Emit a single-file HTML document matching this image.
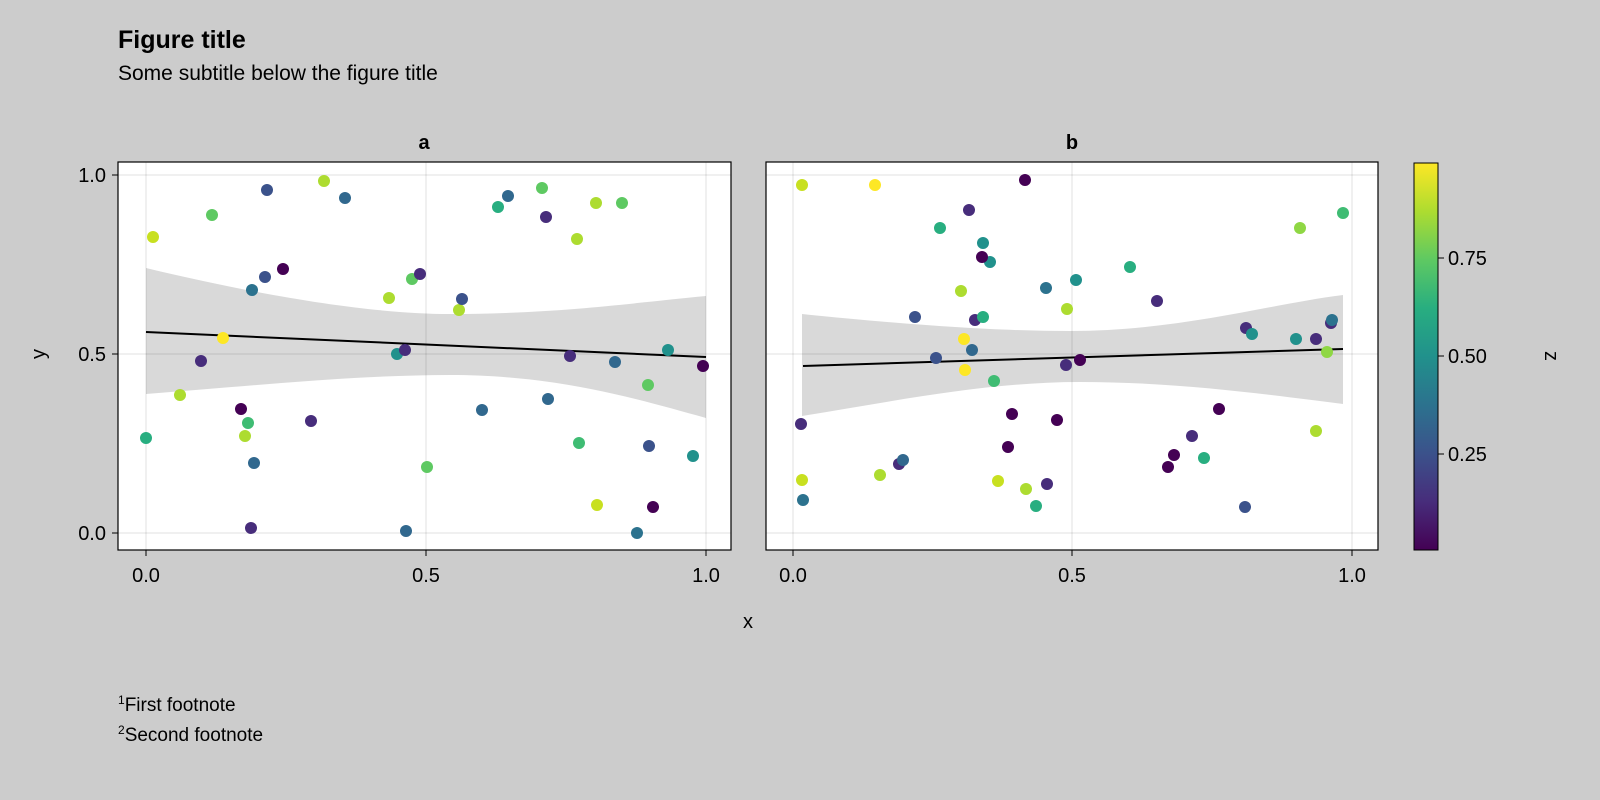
<!DOCTYPE html>
<html><head><meta charset="utf-8"><style>
body{margin:0;background:#cccccc;}
svg{display:block;font-family:"Liberation Sans",Arial,sans-serif;}
</style></head><body>
<svg width="1600" height="800" xmlns="http://www.w3.org/2000/svg">
<defs>
<linearGradient id="vir" x1="0" y1="1" x2="0" y2="0">
<stop offset="0" stop-color="#440154"/><stop offset="0.125" stop-color="#472d7b"/>
<stop offset="0.25" stop-color="#3b528b"/><stop offset="0.375" stop-color="#2c728e"/>
<stop offset="0.5" stop-color="#21918c"/><stop offset="0.625" stop-color="#28ae80"/>
<stop offset="0.75" stop-color="#5ec962"/><stop offset="0.875" stop-color="#addc30"/>
<stop offset="1" stop-color="#fde725"/>
</linearGradient>
</defs>
<rect width="1600" height="800" fill="#cccccc"/>
<text x="118" y="48" font-size="25" font-weight="bold">Figure title</text>
<text x="118" y="80" font-size="21">Some subtitle below the figure title</text>
<text x="424" y="149" font-size="20" font-weight="bold" text-anchor="middle">a</text>
<text x="1072" y="149" font-size="20" font-weight="bold" text-anchor="middle">b</text>

<!-- panel a -->
<rect x="118" y="162" width="613" height="388" fill="#fff"/>
<g stroke="#000" stroke-opacity="0.12" stroke-width="1">
<line x1="146" y1="162" x2="146" y2="550"/><line x1="426" y1="162" x2="426" y2="550"/><line x1="706" y1="162" x2="706" y2="550"/>
<line x1="118" y1="175" x2="731" y2="175"/><line x1="118" y1="354" x2="731" y2="354"/><line x1="118" y1="533" x2="731" y2="533"/>
<line x1="793" y1="162" x2="793" y2="550"/><line x1="1072" y1="162" x2="1072" y2="550"/><line x1="1352" y1="162" x2="1352" y2="550"/>
</g>
<path d="M146,268 C280,300 380,314 450,314 C560,314 640,302 706,296 L706,418 C640,400 560,375 450,375 C360,375 260,385 146,394 Z" fill="#000" fill-opacity="0.15"/>
<line x1="146" y1="332" x2="706" y2="357" stroke="#000" stroke-width="2"/>
<g>
<circle cx="146" cy="438" r="6" fill="#28ae80"/><circle cx="153" cy="237" r="6" fill="#c8e020"/>
<circle cx="180" cy="395" r="6" fill="#addc30"/><circle cx="212" cy="215" r="6" fill="#5ec962"/>
<circle cx="201" cy="361" r="6" fill="#472d7b"/><circle cx="223" cy="338" r="6" fill="#fde725"/>
<circle cx="267" cy="190" r="6" fill="#3b528b"/><circle cx="324" cy="181" r="6" fill="#addc30"/>
<circle cx="345" cy="198" r="6" fill="#31688e"/><circle cx="283" cy="269" r="6" fill="#440154"/>
<circle cx="265" cy="277" r="6" fill="#3b528b"/><circle cx="252" cy="290" r="6" fill="#2c728e"/>
<circle cx="241" cy="409" r="6" fill="#440154"/><circle cx="248" cy="423" r="6" fill="#3fbc73"/>
<circle cx="245" cy="436" r="6" fill="#addc30"/><circle cx="254" cy="463" r="6" fill="#31688e"/>
<circle cx="311" cy="421" r="6" fill="#472d7b"/><circle cx="251" cy="528" r="6" fill="#472d7b"/>
<circle cx="389" cy="298" r="6" fill="#addc30"/><circle cx="412" cy="279" r="6" fill="#5ec962"/>
<circle cx="420" cy="274" r="6" fill="#472d7b"/><circle cx="397" cy="354" r="6" fill="#21918c"/>
<circle cx="405" cy="350" r="6" fill="#472d7b"/><circle cx="459" cy="310" r="6" fill="#addc30"/>
<circle cx="462" cy="299" r="6" fill="#3b528b"/><circle cx="427" cy="467" r="6" fill="#5ec962"/>
<circle cx="406" cy="531" r="6" fill="#31688e"/><circle cx="498" cy="207" r="6" fill="#28ae80"/>
<circle cx="508" cy="196" r="6" fill="#31688e"/><circle cx="542" cy="188" r="6" fill="#5ec962"/>
<circle cx="546" cy="217" r="6" fill="#472d7b"/><circle cx="577" cy="239" r="6" fill="#addc30"/>
<circle cx="596" cy="203" r="6" fill="#addc30"/><circle cx="622" cy="203" r="6" fill="#5ec962"/>
<circle cx="570" cy="356" r="6" fill="#472d7b"/><circle cx="615" cy="362" r="6" fill="#31688e"/>
<circle cx="548" cy="399" r="6" fill="#31688e"/><circle cx="482" cy="410" r="6" fill="#31688e"/>
<circle cx="579" cy="443" r="6" fill="#3fbc73"/><circle cx="649" cy="446" r="6" fill="#3b528b"/>
<circle cx="668" cy="350" r="6" fill="#21918c"/><circle cx="648" cy="385" r="6" fill="#5ec962"/>
<circle cx="693" cy="456" r="6" fill="#21918c"/><circle cx="597" cy="505" r="6" fill="#c8e020"/>
<circle cx="653" cy="507" r="6" fill="#440154"/><circle cx="637" cy="533" r="6" fill="#2c728e"/>
<circle cx="703" cy="366" r="6" fill="#440154"/>
</g>
<rect x="118" y="162" width="613" height="388" fill="none" stroke="#000" stroke-width="1.2"/>

<!-- panel b -->
<rect x="766" y="162" width="612" height="388" fill="#fff"/>
<g stroke="#000" stroke-opacity="0.12" stroke-width="1">
<line x1="793" y1="162" x2="793" y2="550"/><line x1="1072" y1="162" x2="1072" y2="550"/><line x1="1352" y1="162" x2="1352" y2="550"/>
<line x1="766" y1="175" x2="1378" y2="175"/><line x1="766" y1="354" x2="1378" y2="354"/><line x1="766" y1="533" x2="1378" y2="533"/>
</g>
<path d="M802,314 C920,326 1000,331 1070,331 C1180,331 1270,304 1343,295 L1343,404 C1270,395 1180,382 1080,382 C990,382 900,400 802,416 Z" fill="#000" fill-opacity="0.15"/>
<line x1="803" y1="366" x2="1343" y2="349" stroke="#000" stroke-width="2"/>
<g>
<circle cx="802" cy="185" r="6" fill="#c8e020"/><circle cx="875" cy="185" r="6" fill="#fde725"/>
<circle cx="1025" cy="180" r="6" fill="#440154"/><circle cx="940" cy="228" r="6" fill="#28ae80"/>
<circle cx="969" cy="210" r="6" fill="#472d7b"/><circle cx="983" cy="243" r="6" fill="#21918c"/>
<circle cx="990" cy="262" r="6" fill="#21918c"/><circle cx="982" cy="257" r="6" fill="#440154"/>
<circle cx="915" cy="317" r="6" fill="#3b528b"/><circle cx="961" cy="291" r="6" fill="#addc30"/>
<circle cx="975" cy="320" r="6" fill="#472d7b"/><circle cx="983" cy="317" r="6" fill="#28ae80"/>
<circle cx="1046" cy="288" r="6" fill="#2c728e"/><circle cx="1076" cy="280" r="6" fill="#21918c"/>
<circle cx="1067" cy="309" r="6" fill="#addc30"/><circle cx="1130" cy="267" r="6" fill="#28ae80"/>
<circle cx="1157" cy="301" r="6" fill="#472d7b"/><circle cx="1300" cy="228" r="6" fill="#8fd744"/>
<circle cx="1343" cy="213" r="6" fill="#3fbc73"/><circle cx="964" cy="339" r="6" fill="#fde725"/>
<circle cx="972" cy="350" r="6" fill="#31688e"/><circle cx="936" cy="358" r="6" fill="#3b528b"/>
<circle cx="965" cy="370" r="6" fill="#fde725"/><circle cx="994" cy="381" r="6" fill="#3fbc73"/>
<circle cx="1066" cy="365" r="6" fill="#472d7b"/><circle cx="1080" cy="360" r="6" fill="#440154"/>
<circle cx="1012" cy="414" r="6" fill="#440154"/><circle cx="1057" cy="420" r="6" fill="#440154"/>
<circle cx="1008" cy="447" r="6" fill="#440154"/><circle cx="801" cy="424" r="6" fill="#472d7b"/>
<circle cx="1219" cy="409" r="6" fill="#440154"/><circle cx="1192" cy="436" r="6" fill="#472d7b"/>
<circle cx="1174" cy="455" r="6" fill="#440154"/><circle cx="1168" cy="467" r="6" fill="#440154"/>
<circle cx="1204" cy="458" r="6" fill="#28ae80"/><circle cx="899" cy="464" r="6" fill="#472d7b"/>
<circle cx="903" cy="460" r="6" fill="#31688e"/><circle cx="880" cy="475" r="6" fill="#addc30"/>
<circle cx="802" cy="480" r="6" fill="#c8e020"/><circle cx="803" cy="500" r="6" fill="#2c728e"/>
<circle cx="998" cy="481" r="6" fill="#c8e020"/><circle cx="1026" cy="489" r="6" fill="#addc30"/>
<circle cx="1047" cy="484" r="6" fill="#472d7b"/><circle cx="1036" cy="506" r="6" fill="#28ae80"/>
<circle cx="1245" cy="507" r="6" fill="#3b528b"/><circle cx="1246" cy="328" r="6" fill="#472d7b"/>
<circle cx="1252" cy="334" r="6" fill="#21918c"/><circle cx="1296" cy="339" r="6" fill="#21918c"/>
<circle cx="1316" cy="339" r="6" fill="#472d7b"/><circle cx="1331" cy="323" r="6" fill="#472d7b"/>
<circle cx="1332" cy="320" r="6" fill="#2c728e"/><circle cx="1327" cy="352" r="6" fill="#8fd744"/>
<circle cx="1316" cy="431" r="6" fill="#addc30"/>
</g>
<rect x="766" y="162" width="612" height="388" fill="none" stroke="#000" stroke-width="1.2"/>

<!-- axes ticks -->
<g stroke="#000" stroke-width="1">
<line x1="112" y1="175" x2="118" y2="175"/><line x1="112" y1="354" x2="118" y2="354"/><line x1="112" y1="533" x2="118" y2="533"/>
<line x1="146" y1="550" x2="146" y2="556"/><line x1="426" y1="550" x2="426" y2="556"/><line x1="706" y1="550" x2="706" y2="556"/>
<line x1="793" y1="550" x2="793" y2="556"/><line x1="1072" y1="550" x2="1072" y2="556"/><line x1="1352" y1="550" x2="1352" y2="556"/>
<line x1="1438" y1="258" x2="1444" y2="258"/><line x1="1438" y1="356" x2="1444" y2="356"/><line x1="1438" y1="454" x2="1444" y2="454"/>
</g>
<g font-size="20">
<text x="106" y="182" text-anchor="end">1.0</text><text x="106" y="361" text-anchor="end">0.5</text><text x="106" y="540" text-anchor="end">0.0</text>
<text x="146" y="582" text-anchor="middle">0.0</text><text x="426" y="582" text-anchor="middle">0.5</text><text x="706" y="582" text-anchor="middle">1.0</text>
<text x="793" y="582" text-anchor="middle">0.0</text><text x="1072" y="582" text-anchor="middle">0.5</text><text x="1352" y="582" text-anchor="middle">1.0</text>
<text x="1448" y="265">0.75</text><text x="1448" y="363">0.50</text><text x="1448" y="461">0.25</text>
<text x="748" y="628" text-anchor="middle">x</text>
<text transform="translate(45,354) rotate(-90)" text-anchor="middle">y</text>
<text transform="translate(1545,356) rotate(90)" text-anchor="middle">z</text>
</g>
<rect x="1414" y="163" width="24" height="387" fill="url(#vir)" stroke="#000" stroke-width="1"/>

<g font-size="19">
<text x="118" y="711"><tspan font-size="12" dy="-7">1</tspan><tspan dy="7">First footnote</tspan></text>
<text x="118" y="741"><tspan font-size="12" dy="-7">2</tspan><tspan dy="7">Second footnote</tspan></text>
</g>
</svg>
</body></html>
